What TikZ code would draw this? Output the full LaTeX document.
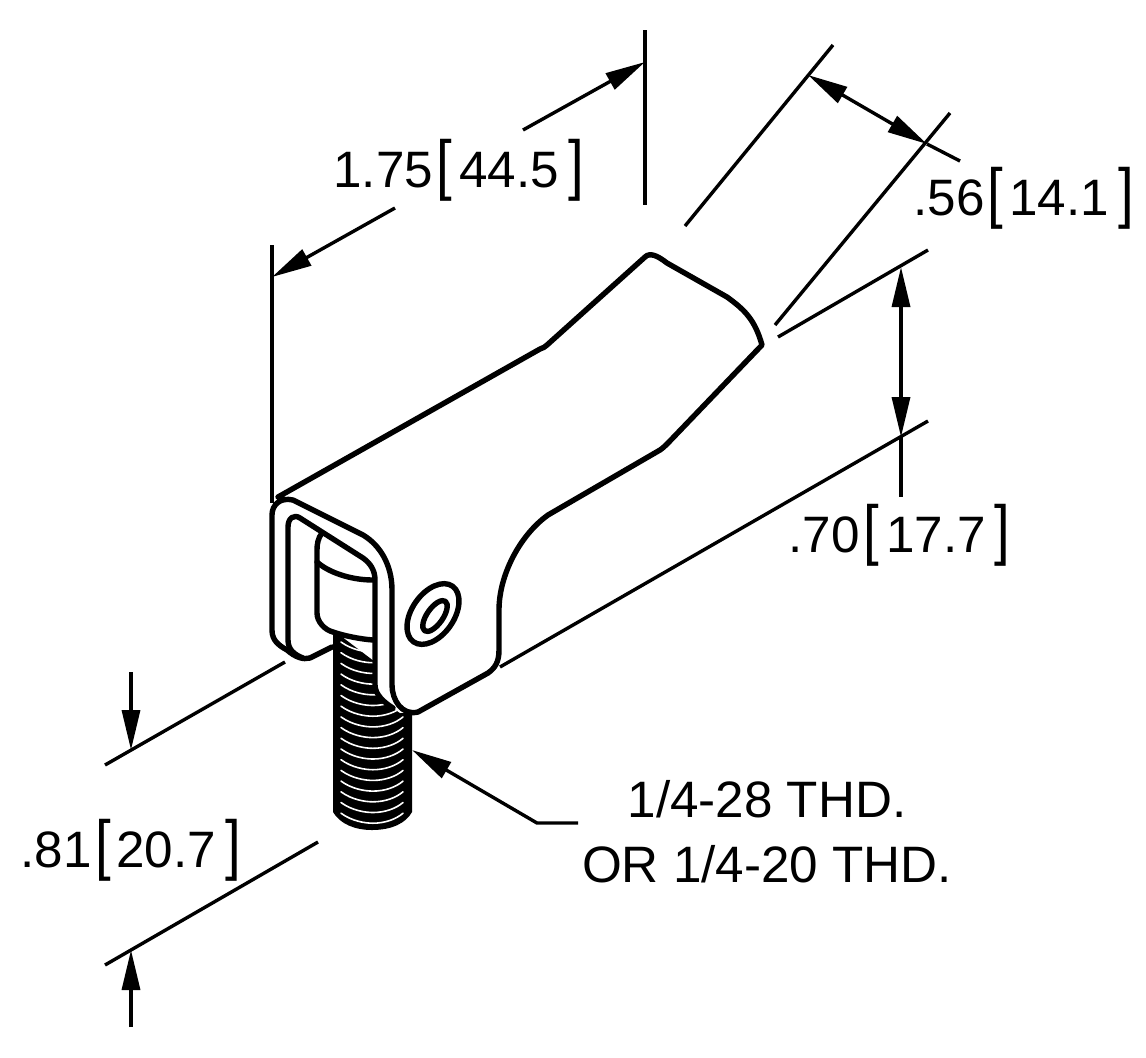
\documentclass[tikz,border=0pt]{standalone}
\usepackage{fontspec}
\setmainfont{Liberation Sans}
\usetikzlibrary{arrows.meta}
\tikzset{
  part/.style={line width=2.7pt,line join=round,line cap=round},
  dimline/.style={line width=1.7pt},
  tip/.style={-{Triangle[length=20pt,width=9pt]}},
  twotip/.style={{Triangle[length=20pt,width=9pt]}-{Triangle[length=20pt,width=9pt]}},
  lbl/.style={inner sep=0pt,anchor=base west,font=\fontsize{25.6pt}{28pt}\selectfont},
  brk/.style={inner sep=0pt,anchor=base,font=\fontsize{25.6pt}{28pt}\selectfont},
  threadarc/.style={draw=white,line width=0.8pt,line cap=round}
}
\newcommand{\tallL}{\scalebox{1.1}[1.3]{[}}
\newcommand{\tallR}{\scalebox{1.1}[1.3]{]}}
\begin{document}
\begin{tikzpicture}[x=0.5pt,y=-0.5pt]
\useasboundingbox (0,0) rectangle (1146,1057);
\fill[white] (0,0) rectangle (1146,1057);

% thread
\fill[black] (333,630) -- (333,812) .. controls (340,824) and (355,830) .. (372,830) .. controls (392,830) and (406,823) .. (412,812) -- (412,690) -- cycle;
\foreach \k in {0,...,16}{
  \pgfmathsetmacro{\yy}{642+10.7*\k}
  \draw[threadarc] (341,\yy) .. controls (352,\yy+8) and (365,\yy+10) .. (373,\yy+10) .. controls (385,\yy+10) and (396,\yy+6) .. (403,\yy);
}
% white body areas
\fill[white] (375,600) -- (375,685) .. controls (375,695) and (385,703) .. (393,708) -- (400,713) -- (418,712) -- (488,673) .. controls (495,668) and (499,662) .. (499,650) -- (499,610) .. controls (499,575) and (520,535) .. (548,515) -- (660,450) .. controls (663,448) and (666,445) .. (668,443) -- (762,345) .. controls (755,320) and (745,310) .. (727,297) -- (667,263) .. controls (658,256) and (650,252) .. (645,257) -- (547,345) .. controls (545,347) and (543,348) .. (540,349) -- (283,497) -- (272,515) -- (272,630) .. controls (272,640) and (278,645) .. (287,650) .. controls (295,657) and (303,660) .. (310,658) -- (332,647) -- (333,632) -- (373,640) -- cycle;

% outer outline
\draw[part] (332,647) -- (310,658) .. controls (303,660) and (295,657) .. (287,650) .. controls (278,645) and (272,640) .. (272,630) -- (272,515) .. controls (272,505) and (280,497) .. (293,500) -- (363,535) .. controls (380,545) and (392,565) .. (392,590) -- (392,685) .. controls (392,700) and (402,716) .. (418,712) -- (488,673) .. controls (495,668) and (499,662) .. (499,650) -- (499,610) .. controls (499,575) and (520,535) .. (548,515) -- (660,450) .. controls (663,448) and (666,445) .. (668,443) -- (762,345) .. controls (755,320) and (745,310) .. (727,297) -- (667,263) .. controls (658,256) and (650,252) .. (645,257) -- (547,345) .. controls (545,347) and (543,348) .. (540,349) -- (278,497);
% inner lip
\draw[part] (303,658) .. controls (295,655) and (288,650) .. (288,640) -- (288,527) .. controls (288,518) and (294,514) .. (300,518) -- (363,558) .. controls (370,563) and (375,570) .. (375,580) -- (375,685) .. controls (375,695) and (385,703) .. (393,708);
% bolt head
\draw[part] (322,533) .. controls (318,538) and (317,544) .. (317,550) -- (317,613) .. controls (317,622) and (325,630) .. (333,632) .. controls (345,636) and (360,639) .. (373,640);
\draw[part] (317,562) .. controls (328,572) and (350,580) .. (373,580);
% washer
\draw[part,rotate around={55:(433,614)}] (433,614) ellipse (34 and 21);
\draw[part,rotate around={55:(435,616)}] (435,616) ellipse (18 and 8);

% extension lines
\draw[dimline] (272,245) -- (272,503);
\draw[dimline] (645,30) -- (645,205);
\draw[dimline] (685,226) -- (833,45);
\draw[dimline] (775,325) -- (950,113);
\draw[dimline] (778,337) -- (928,250);
\draw[dimline] (500,667) -- (928,421);
\draw[dimline] (105,765) -- (285,662);
\draw[dimline] (105,965) -- (318,842);

% dimension lines
\coordinate (a1) at (523,130); \coordinate (a1t) at (645,62);
\coordinate (a2) at (395,208); \coordinate (a2t) at (272,277);
\draw[dimline,tip] (a1) -- (a1t);
\draw[dimline,tip] (a2) -- (a2t);
\coordinate (b1) at (808,75); \coordinate (b2) at (927,144); \coordinate (b3) at (960,161);
\draw[dimline,twotip] (b1) -- (b2);
\draw[dimline] (b2) -- (b3);
\coordinate (c1) at (901,267); \coordinate (c2) at (901,437); \coordinate (c3) at (901,497);
\draw[dimline,twotip] (c1) -- (c2);
\draw[dimline] (c2) -- (c3);
\coordinate (d1) at (131,672); \coordinate (d1t) at (131,750);
\coordinate (d2) at (131,1027); \coordinate (d2t) at (131,950);
\draw[dimline,tip] (d1) -- (d1t);
\draw[dimline,tip] (d2) -- (d2t);
\coordinate (e1) at (578,823); \coordinate (e2) at (537,823); \coordinate (e3) at (412,750);
\draw[dimline,tip] (e1) -- (e2) -- (e3);

% labels
\node[lbl] (t1a) at (333,187) {1.75};
\node[brk] (t1b) at (444,187) {\tallL};
\node[lbl] (t1c) at (459,187) {44.5};
\node[brk] (t1d) at (576,187) {\tallR};
\node[lbl] (t2a) at (913,215) {.56};
\node[brk] (t2b) at (995.5,215) {\tallL};
\node[lbl] (t2c) at (1009,215) {14.1};
\node[brk] (t2d) at (1126,215) {\tallR};
\node[lbl] (t3a) at (788,552) {.70};
\node[brk] (t3b) at (871,552) {\tallL};
\node[lbl] (t3c) at (886,552) {17.7};
\node[brk] (t3d) at (1002,552) {\tallR};
\node[lbl] (t4a) at (20,867) {.81};
\node[brk] (t4b) at (103,867) {\tallL};
\node[lbl] (t4c) at (116,867) {20.7};
\node[brk] (t4d) at (233.5,867) {\tallR};
\node[inner sep=0pt,anchor=base,font=\fontsize{25.6pt}{28pt}\selectfont] (t5) at (767,817) {1/4-28 THD.};
\node[inner sep=0pt,anchor=base,font=\fontsize{25.6pt}{28pt}\selectfont] (t6) at (767,882) {OR 1/4-20 THD.};
\end{tikzpicture}
\end{document}
